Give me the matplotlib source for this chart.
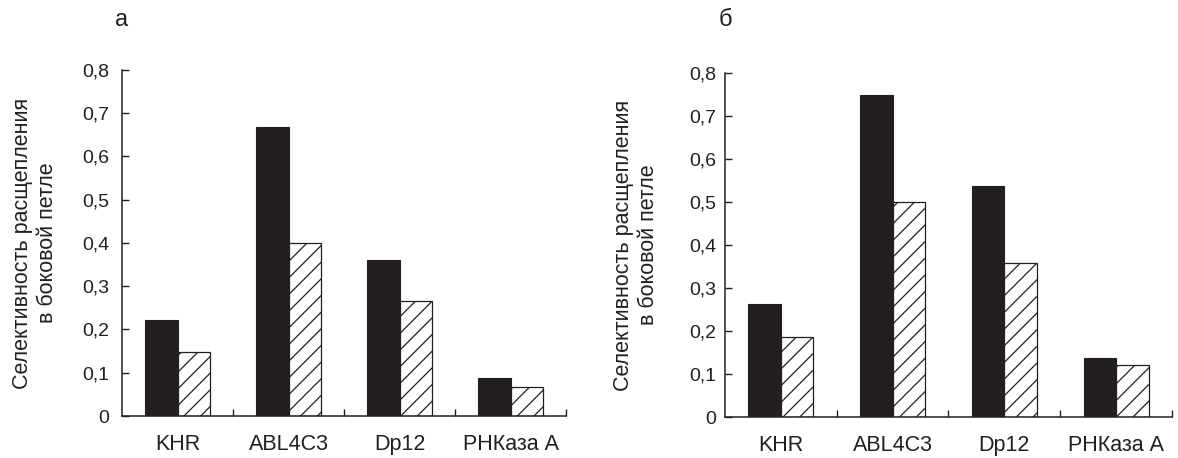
import numpy as np
import matplotlib
matplotlib.use('Agg')
import matplotlib.pyplot as plt
from matplotlib.ticker import FixedLocator

plt.rcParams['font.family'] = ['Liberation Sans', 'DejaVu Sans']
plt.rcParams['hatch.linewidth'] = 0.9

categories = ['KHR', 'ABL4C3', 'Dp12', 'РНКаза А']
yticks = [0, 0.1, 0.2, 0.3, 0.4, 0.5, 0.6, 0.7, 0.8]
ytick_labels = ['0', '0,1', '0,2', '0,3', '0,4', '0,5', '0,6', '0,7', '0,8']
ylabel = 'Селективность расщепления\nв боковой петле'

# panel a
a_solid = [0.223, 0.668, 0.360, 0.088]
a_hatched = [0.148, 0.400, 0.267, 0.068]
# panel б
b_solid = [0.263, 0.750, 0.537, 0.138]
b_hatched = [0.185, 0.500, 0.357, 0.120]

dark = '#231f20'
fig = plt.figure(figsize=(11.78, 4.58), dpi=100)
ax1 = fig.add_axes([0.1036, 0.0917, 0.3769, 0.7555])
ax2 = fig.add_axes([0.6154, 0.0895, 0.3795, 0.7511])

x = np.arange(len(categories))
w = 0.29

for ax, solid, hatched, letter, lpad, lblx in [
        (ax1, a_solid, a_hatched, 'а', 9, -0.195),
        (ax2, b_solid, b_hatched, 'б', 6, -0.20)]:
    ax.bar(x - w / 2, solid, width=w, color=dark, edgecolor=dark, linewidth=0.8)
    ax.bar(x + w / 2, hatched, width=w, color='white', edgecolor=dark,
           linewidth=0.9, hatch='//')
    ax.set_xlim(-0.5, 3.5)
    ax.set_ylim(0, 0.8)
    ax.set_yticks(yticks)
    ax.set_yticklabels(ytick_labels)
    ax.set_xticks(x)
    ax.set_xticklabels(categories)
    ax.xaxis.set_minor_locator(FixedLocator([0.5, 1.5, 2.5, 3.5]))
    ax.tick_params(axis='x', which='major', length=0, pad=13, labelsize=15.5, colors=dark)
    ax.tick_params(axis='x', which='minor', direction='in', length=5, width=1, color=dark)
    ax.tick_params(axis='y', direction='in', length=5, width=1, pad=lpad,
                   labelsize=14, colors=dark)
    for s in ['top', 'right']:
        ax.spines[s].set_visible(False)
    for s in ['left', 'bottom']:
        ax.spines[s].set_linewidth(1.1)
        ax.spines[s].set_color(dark)
    ax.set_ylabel(ylabel, fontsize=15.5, color=dark, linespacing=1.25,
                  va='center', ha='center')
    ax.yaxis.set_label_coords(lblx, 0.5)
    pos = ax.get_position()
    fig.text(pos.x0, 1 - 20 / 458, letter, fontsize=17, color=dark,
             ha='center', va='center')

fig.savefig('out.png', dpi=100)
